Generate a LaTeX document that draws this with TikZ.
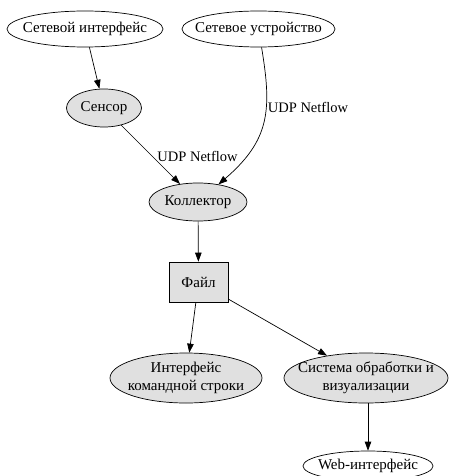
\documentclass[tikz,border=0pt]{standalone}
\usepackage{fontspec}
\setmainfont{Liberation Serif}
\usetikzlibrary{shapes.geometric,arrows.meta}
\definecolor{nodegray}{RGB}{224,224,224}
\begin{document}
\begin{tikzpicture}[x=1pt,y=-1pt,
  base/.style={draw=black, line width=0.7pt, inner sep=0pt},
  every label/.style={font=\fontsize{15}{18}\selectfont, align=center, inner sep=0pt},
  oval/.style={base, ellipse},
  graynode/.style={oval, fill=nodegray},
  boxnode/.style={base, rectangle, fill=nodegray},
  edge/.style={draw=black, line width=0.7pt, -{Triangle[length=9pt,width=6.5pt]}},
  lbl/.style={font=\fontsize{14.5}{18}\selectfont, inner sep=1.5pt}
]
\useasboundingbox (0,0) rectangle (451,476);
\begin{scope}
\clip (0,0) rectangle (451,476);
\node[oval, minimum width=156pt, minimum height=36pt, label={center:Сетевой интерфейс}] (iface) at (85,29) {};
\node[oval, minimum width=153pt, minimum height=36pt, label={center:Сетевое устройство}] (dev) at (258.5,29) {};
\node[graynode, minimum width=75pt, minimum height=38pt, label={center:Сенсор}] (sensor) at (104,108) {};
\node[graynode, minimum width=98pt, minimum height=38pt, label={center:Коллектор}] (col) at (198,202) {};
\node[boxnode, minimum width=59pt, minimum height=40pt, label={center:Файл}] (file) at (198.5,282) {};
\node[graynode, minimum width=152pt, minimum height=50pt, label={center:Интерфейс\\командной строки}] (cli) at (186,378) {};
\node[graynode, minimum width=164pt, minimum height=50pt, label={center:Система обработки и\\визуализации}] (sys) at (366,378) {};
\node[oval, minimum width=130pt, minimum height=30pt, label={center:Web-интерфейс}] (web) at (368,466) {};

\draw[edge] (iface) -- (sensor);
\draw[edge] (sensor) -- node[lbl, pos=0.5, right, xshift=5pt, yshift=-2pt] {UDP Netflow} (col);
\draw[edge] (dev) .. controls (272,110) and (270,140) .. node[lbl, pos=0.38, right] {UDP Netflow} (col);
\draw[edge] (col) -- (file);
\draw[edge] (file) -- (cli);
\draw[edge] (file) -- (sys);
\draw[edge] (sys.south -| web) -- (web);
\end{scope}
\end{tikzpicture}
\end{document}
